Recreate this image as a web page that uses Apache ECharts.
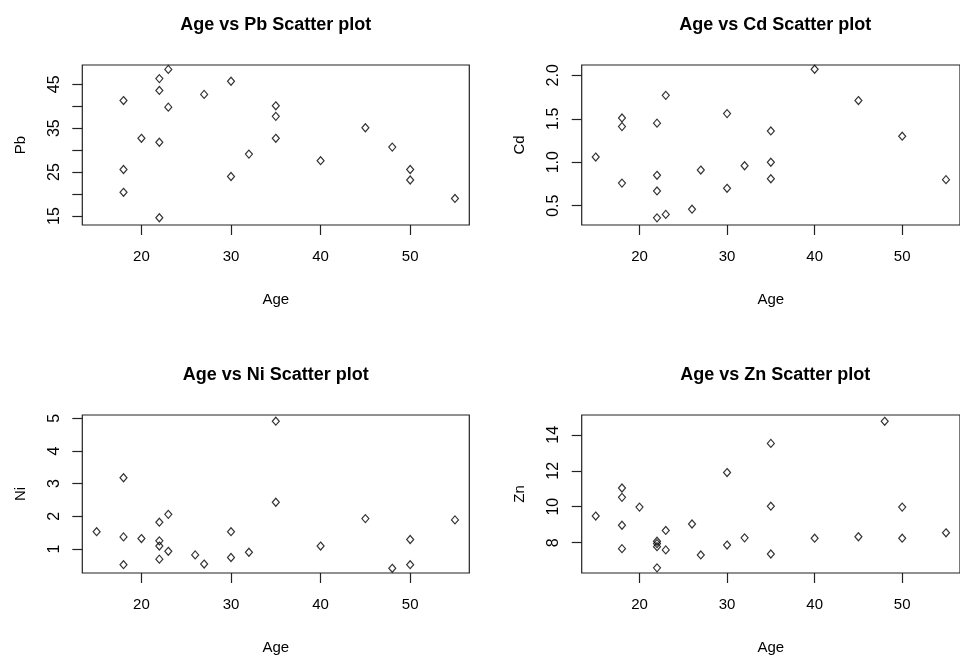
<!DOCTYPE html>
<html>
<head>
<meta charset="utf-8">
<script src="https://cdn.jsdelivr.net/npm/echarts@6/dist/echarts.min.js"></script>
<style>html,body{margin:0;padding:0;background:#fff;}#c{width:960px;height:656px;}</style>
</head>
<body>
<div id="c"></div>
<script>
// ---- data ----
const pbAge = [18,18,18,20,22,22,22,22,23,23,27,30,30,32,35,35,35,40,45,48,50,50,55];
const pbVal = [41.3,25.6,20.4,32.7,46.3,43.6,31.8,14.6,48.4,39.8,42.7,45.7,24.0,29.1,40.1,37.7,32.7,27.6,35.1,30.7,25.6,23.2,19.0];

const cdAge = [15,18,18,18,22,22,22,22,23,23,26,27,30,30,32,35,35,35,40,45,50,55];
const cdVal = [1.06,1.51,1.41,0.76,1.45,0.85,0.67,0.36,1.77,0.40,0.46,0.91,1.56,0.70,0.96,1.36,1.00,0.81,2.07,1.71,1.30,0.80];

const niAge = [15,18,18,18,20,22,22,22,22,23,23,26,27,30,30,32,35,35,40,45,48,50,50,55];
const niVal = [1.53,3.18,1.37,0.52,1.32,1.82,1.25,1.09,0.69,2.06,0.93,0.82,0.54,1.53,0.74,0.90,4.91,2.43,1.09,1.93,0.41,1.29,0.52,1.89];

const znAge = [15,18,18,18,18,20,22,22,22,22,23,23,26,27,30,30,32,35,35,35,40,45,48,50,50,55];
const znVal = [9.48,11.04,10.52,8.97,7.67,9.98,8.08,7.95,7.78,6.60,8.68,7.60,9.04,7.32,11.90,7.87,8.27,13.52,10.03,7.37,8.25,8.33,14.75,9.98,8.25,8.55];

const xTicks = [20,30,40,50];
const pbTicks = [15,20,25,30,35,40,45];
const pbLabels = [15,25,35,45];
const cdTicks = [0.5,1.0,1.5,2.0];
const niTicks = [1,2,3,4,5];
const znTicks = [8,10,12,14];

const titles = ['Age vs Pb Scatter plot','Age vs Cd Scatter plot','Age vs Ni Scatter plot','Age vs Zn Scatter plot'];
const yNames = ['Pb','Cd','Ni','Zn'];

// ---- layout ----
const FONT = 'Liberation Sans, Arial, sans-serif';
const grids = [
  {left: 82.3, top: 65, width: 387, height: 160},
  {left: 581.7, top: 65, width: 387.6, height: 160},
  {left: 82.3, top: 415, width: 387, height: 160},
  {left: 581.7, top: 415, width: 387.6, height: 160}
];
const yRanges = [[12.95,49.4],[0.278,2.119],[0.266,5.1],[6.315,15.1]];
const yTickSets = [pbTicks, cdTicks, niTicks, znTicks];
const yLabelSets = [pbLabels, cdTicks, niTicks, znTicks];
const yFmt = [v=>String(v), v=>Number(v).toFixed(1), v=>String(v), v=>String(v)];
const seriesData = [[pbAge,pbVal],[cdAge,cdVal],[niAge,niVal],[znAge,znVal]];

const option = {
  backgroundColor: '#fff',
  animation: false,
  title: grids.map((g,i)=>({
    text: titles[i],
    left: g.left + 193.5,
    top: g.top - 49,
    textAlign: 'center',
    padding: 0,
    textStyle: {fontFamily: FONT, fontWeight: 'bold', fontSize: 18, color: '#000'}
  })),
  grid: grids.map(g=>Object.assign({show: true, borderColor: '#222', borderWidth: 1.2, backgroundColor: 'transparent', containLabel: false}, g)),
  xAxis: grids.map((g,i)=>({
    type: 'value', gridIndex: i, min: 13.4, max: 56.6,
    name: 'Age', nameLocation: 'middle', nameGap: 67,
    nameTextStyle: {fontFamily: FONT, fontSize: 15, color: '#000'},
    splitLine: {show: false},
    axisLine: {show: false},
    axisTick: {show: true, inside: false, length: 10, customValues: xTicks, lineStyle: {color: '#222', width: 1.2}},
    axisLabel: {show: true, margin: 24, customValues: xTicks, fontFamily: FONT, fontSize: 15, color: '#000'}
  })),
  yAxis: grids.map((g,i)=>({
    type: 'value', gridIndex: i, min: yRanges[i][0], max: yRanges[i][1],
    name: yNames[i], nameLocation: 'middle', nameGap: 54, nameRotate: 90,
    nameTextStyle: {fontFamily: FONT, fontSize: 15, color: '#000'},
    splitLine: {show: false},
    axisLine: {show: false},
    axisTick: {show: true, inside: false, length: 10, customValues: yTickSets[i], lineStyle: {color: '#222', width: 1.2}},
    axisLabel: {show: true, margin: 20, rotate: 90, customValues: yLabelSets[i], formatter: yFmt[i], fontFamily: FONT, fontSize: 16, color: '#000'}
  })),
  series: seriesData.map((d,i)=>({
    type: 'scatter', xAxisIndex: i, yAxisIndex: i,
    symbol: 'diamond', symbolSize: [7,8],
    itemStyle: {color: 'rgba(255,255,255,0)', borderColor: '#000', borderWidth: 1.2},
    data: d[0].map((a,k)=>[a, d[1][k]])
  }))
};

const chart = echarts.init(document.getElementById('c'), null, {renderer: 'canvas'});
chart.setOption(option);
</script>
</body>
</html>
